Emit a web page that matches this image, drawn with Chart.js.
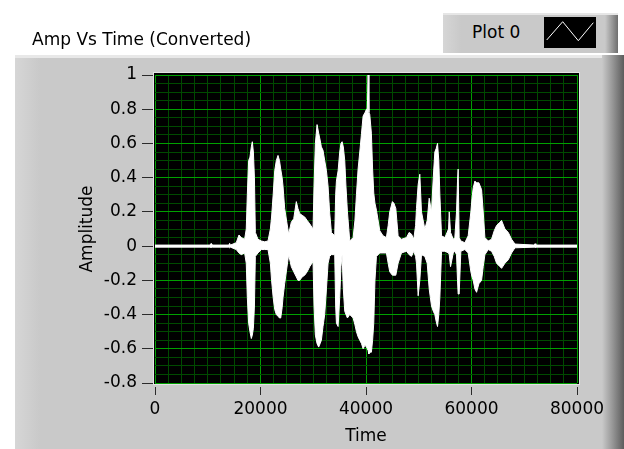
<!DOCTYPE html>
<html><head><meta charset="utf-8">
<script src="https://cdn.jsdelivr.net/npm/chart.js@4.4.1/dist/chart.umd.min.js"></script>
<style>
html,body{margin:0;padding:0;background:#fff;}
#wrap{position:relative;width:624px;height:449px;overflow:hidden;}
#c{position:absolute;left:0;top:0;}
#legend{position:absolute;left:443px;top:13px;width:175px;height:40px;box-sizing:border-box;
 background:linear-gradient(to right,#d6d6d6 0px,#c9c9c9 18px,#c9c9c9 162px,#a0a0a0 168px,#6e6e6e 175px);
 border-top:2px solid #e6e6e6;}
#legend span{position:absolute;left:29px;top:7px;font:17px "DejaVu Sans";color:#000;}
#legend svg{position:absolute;left:101px;top:2px;}
</style></head>
<body>
<div id="wrap">
<canvas id="c" width="624" height="449"></canvas>
<div id="legend"><span>Plot 0</span><svg width="52" height="31" viewBox="0 0 52 31"><rect x="0" y="0" width="52" height="31" fill="#000"/><polyline points="2.7,23 18.7,4.7 34.3,23.7 49.3,5.7" fill="none" stroke="#fff" stroke-width="1"/></svg></div>
</div>
<script>
// ---- data (envelope of the waveform) ----
const time = [0, 10400, 10660, 10900, 14000, 14150, 14300, 15400, 15920, 16360, 16990, 17300, 17500, 17750, 18000, 18260, 18450, 18650, 18850, 19020, 19520, 20160, 20790, 21420, 21870, 22100, 22400, 22690, 23000, 23320, 23600, 23830, 24100, 24270, 24580, 25340, 25840, 26300, 26790, 27100, 27430, 27900, 28380, 28850, 29330, 29960, 30150, 30400, 30720, 31030, 31300, 31540, 31850, 32170, 32500, 32810, 33100, 33440, 34070, 34250, 34390, 34710, 35020, 35250, 35470, 35700, 35970, 36200, 36480, 36920, 37560, 37900, 38190, 38500, 38820, 39150, 39450, 39800, 40090, 40250, 40400, 40550, 40710, 41020, 41250, 41470, 41700, 41980, 42610, 43240, 43870, 44200, 44500, 45000, 45300, 45650, 46090, 46720, 47680, 48180, 48620, 49060, 49400, 49570, 49890, 50200, 50520, 51150, 51600, 51980, 52200, 52420, 52750, 53050, 53300, 53560, 53800, 54000, 54320, 54960, 55650, 55780, 56030, 56540, 56840, 57160, 57350, 57470, 57660, 57980, 58740, 59370, 59880, 60100, 60320, 60640, 60960, 61400, 61910, 62220, 62540, 63170, 63800, 64310, 64750, 65390, 65700, 66340, 66970, 67600, 68240, 71900, 72050, 72200, 80000];
const upper = [0.006, 0.006, 0.016, 0.006, 0.006, 0.016, 0.006, 0.02, 0.065, 0.05, 0.04, 0.1, 0.3, 0.5, 0.52, 0.58, 0.61, 0.55, 0.4, 0.08, 0.04, 0.03, 0.025, 0.03, 0.1, 0.17, 0.3, 0.44, 0.5, 0.53, 0.5, 0.45, 0.4, 0.35, 0.22, 0.07, 0.14, 0.16, 0.26, 0.22, 0.19, 0.18, 0.17, 0.15, 0.13, 0.1, 0.35, 0.6, 0.71, 0.66, 0.62, 0.58, 0.56, 0.5, 0.44, 0.35, 0.2, 0.08, 0.06, 0.3, 0.38, 0.44, 0.55, 0.6, 0.61, 0.58, 0.5, 0.35, 0.2, 0.03, 0.05, 0.15, 0.3, 0.45, 0.55, 0.66, 0.76, 0.78, 0.8, 0.8, 1.0, 0.78, 0.77, 0.66, 0.45, 0.31, 0.25, 0.21, 0.09, 0.06, 0.05, 0.12, 0.2, 0.26, 0.25, 0.22, 0.06, 0.04, 0.05, 0.08, 0.07, 0.04, 0.12, 0.22, 0.36, 0.42, 0.2, 0.1, 0.15, 0.28, 0.24, 0.2, 0.4, 0.55, 0.57, 0.6, 0.5, 0.3, 0.06, 0.05, 0.1, 0.2, 0.08, 0.04, 0.05, 0.2, 0.38, 0.45, 0.05, 0.03, 0.02, 0.06, 0.2, 0.28, 0.34, 0.38, 0.37, 0.37, 0.33, 0.2, 0.05, 0.03, 0.04, 0.09, 0.12, 0.14, 0.15, 0.1, 0.08, 0.04, 0.012, 0.006, 0.014, 0.006, 0.006];
const lower = [-0.006, -0.006, -0.008, -0.006, -0.006, -0.01, -0.006, -0.02, -0.04, -0.05, -0.04, -0.1, -0.3, -0.45, -0.5, -0.54, -0.52, -0.48, -0.35, -0.06, -0.04, -0.02, -0.02, -0.02, -0.1, -0.2, -0.3, -0.37, -0.4, -0.41, -0.42, -0.42, -0.36, -0.3, -0.22, -0.05, -0.12, -0.15, -0.18, -0.2, -0.2, -0.18, -0.17, -0.15, -0.12, -0.09, -0.35, -0.52, -0.57, -0.59, -0.57, -0.55, -0.47, -0.4, -0.25, -0.1, -0.06, -0.05, -0.05, -0.35, -0.45, -0.47, -0.3, -0.12, -0.05, -0.25, -0.38, -0.4, -0.42, -0.4, -0.42, -0.46, -0.5, -0.53, -0.55, -0.57, -0.6, -0.58, -0.59, -0.6, -0.61, -0.63, -0.62, -0.62, -0.55, -0.45, -0.2, -0.06, -0.04, -0.04, -0.04, -0.1, -0.15, -0.17, -0.17, -0.17, -0.1, -0.04, -0.03, -0.05, -0.06, -0.03, -0.06, -0.1, -0.29, -0.2, -0.05, -0.06, -0.1, -0.25, -0.3, -0.35, -0.38, -0.4, -0.44, -0.47, -0.4, -0.3, -0.03, -0.03, -0.04, -0.05, -0.12, -0.04, -0.03, -0.05, -0.2, -0.28, -0.28, -0.03, -0.02, -0.04, -0.15, -0.18, -0.2, -0.25, -0.27, -0.22, -0.2, -0.12, -0.05, -0.02, -0.03, -0.06, -0.1, -0.12, -0.13, -0.1, -0.08, -0.04, -0.01, -0.006, -0.008, -0.006, -0.006];
const xTickValues = [0, 20000, 40000, 60000, 80000];
const xTickLabels = ['0', '20000', '40000', '60000', '80000'];
const yTickValues = [1, 0.8, 0.6, 0.4, 0.2, 0, -0.2, -0.4, -0.6, -0.8];
const yTickLabels = ['1', '0.8', '0.6', '0.4', '0.2', '0', '-0.2', '-0.4', '-0.6', '-0.8'];

const FONT = {family: '"DejaVu Sans", sans-serif', size: 17, weight: 'normal'};
const MAJOR = '#00a000', MINOR = '#004a00', TICK = '#2a2a2a';
const xIdx = v => xTickValues.findIndex(m => Math.abs(m - v) < 1);
const yIdx = v => yTickValues.findIndex(m => Math.abs(m - v) < 1e-6);

const panel = {
  id: 'panel',
  beforeDraw(chart) {
    const c = chart.ctx, a = chart.chartArea;
    c.save();
    c.fillStyle = '#c9c9c9';
    c.fillRect(15, 55, 609, 394);
    let g = c.createLinearGradient(15, 0, 40, 0);
    g.addColorStop(0, '#d6d6d6'); g.addColorStop(1, '#c9c9c9');
    c.fillStyle = g; c.fillRect(15, 55, 25, 394);
    c.fillStyle = '#e8e8e8'; c.fillRect(15, 55, 592, 3);
    g = c.createLinearGradient(602, 0, 624, 0);
    g.addColorStop(0, '#c9c9c9'); g.addColorStop(0.45, '#9a9a9a'); g.addColorStop(1, '#5c5c5c');
    c.fillStyle = g; c.fillRect(602, 55, 22, 394);
    // plot background
    c.fillStyle = '#e4e4e4';
    c.fillRect(a.left - 2, a.top - 3, a.right - a.left + 5, a.bottom - a.top + 5);
    c.fillStyle = '#000';
    c.fillRect(a.left - 1, a.top - 2, a.right - a.left + 3, a.bottom - a.top + 3);
    c.restore();
  }
};

new Chart(document.getElementById('c'), {
  type: 'line',
  data: {
    datasets: [
      {label: 'Plot 0', data: time.map((t, i) => ({x: t, y: upper[i]})), borderColor: '#fff', borderWidth: 1, pointRadius: 0, fill: false, tension: 0},
      {label: 'Plot 0 (min)', data: time.map((t, i) => ({x: t, y: lower[i]})), borderColor: '#fff', borderWidth: 1, pointRadius: 0, backgroundColor: '#fff', fill: '-1', tension: 0}
    ]
  },
  options: {
    responsive: false, animation: false, devicePixelRatio: 1,
    layout: {padding: {left: 32, right: 47, top: 0, bottom: 0}},
    plugins: {
      legend: {display: false}, tooltip: {enabled: false},
      title: {display: true, text: 'Amp Vs Time (Converted)', align: 'start', color: '#000', font: FONT, padding: {top: 30, bottom: 24.6}}
    },
    scales: {
      x: {
        type: 'linear', min: 0, max: 80000,
        afterFit(s) { s.height = 66; },
        border: {display: false},
        ticks: {stepSize: 2500, autoSkip: false, maxRotation: 0, padding: 3, color: '#000', font: FONT,
          callback: v => { const i = xIdx(v); return i >= 0 ? xTickLabels[i] : ''; }},
        grid: {color: c => xIdx(c.tick.value) >= 0 ? MAJOR : MINOR,
          tickColor: c => xIdx(c.tick.value) >= 0 ? TICK : 'rgba(0,0,0,0)',
          tickLength: 13, tickBorderDash: [0, 4, 8, 40], tickWidth: 1},
        title: {display: true, text: 'Time', color: '#000', font: FONT, padding: {top: 0, bottom: 2}}
      },
      y: {
        type: 'linear', min: -0.8, max: 1,
        afterFit(s) { s.width = 123; },
        border: {display: false},
        ticks: {stepSize: 0.05, autoSkip: false, padding: 5, color: '#000', font: FONT,
          callback: v => { const i = yIdx(v); return i >= 0 ? yTickLabels[i] : ''; }},
        grid: {color: c => yIdx(c.tick.value) >= 0 ? MAJOR : MINOR,
          tickColor: c => yIdx(c.tick.value) >= 0 ? TICK : 'rgba(0,0,0,0)',
          tickLength: 13, tickBorderDash: [11, 20], tickWidth: 1},
        title: {display: true, text: 'Amplitude', color: '#000', font: FONT, padding: {top: 45, bottom: 0}}
      }
    }
  },
  plugins: [panel]
});
</script>
</body></html>
